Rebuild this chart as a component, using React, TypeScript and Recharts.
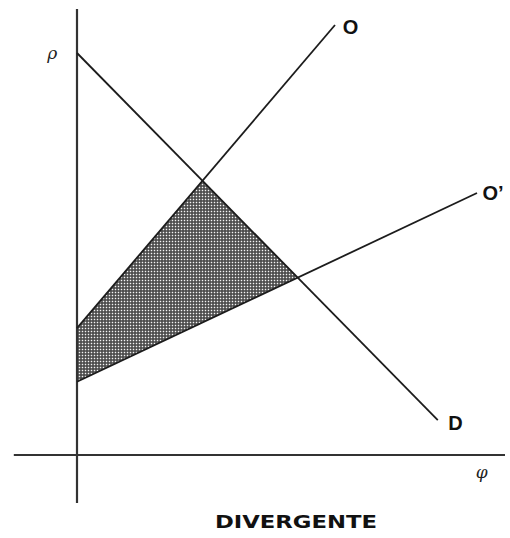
import { ComposedChart, Line, Area, XAxis, YAxis, ReferenceDot, ReferenceLine } from 'recharts';

// price (p) / quantity (phi) units: 1 unit = 40px, origin at the crossing of the axes
const demandD = [
    { x: 0, y: 10.05 },
    { x: 9.02, y: 0.87 },
];
const supplyO = [
    { x: 0, y: 3.17 },
    { x: 6.45, y: 10.75 },
];
const supplyO2 = [
    { x: 0, y: 1.83 },
    { x: 10.0, y: 6.55 },
];
// shaded region: [lower edge (O'), upper edge (O then D)]
const shaded = [
    { x: 0, range: [1.83, 3.17] },
    { x: 3.14, range: [3.31, 6.86] },
    { x: 5.52, range: [4.44, 4.44] },
];
const axisV = [
    { x: 0, y: 11.15 },
    { x: 0, y: -1.2 },
];
const axisH = [
    { x: -1.58, y: 0 },
    { x: 10.7, y: 0 },
];
const lineLabels = [
    { x: 6.84, y: 10.71, text: 'O' },
    { x: 10.4, y: 6.55, text: 'O’' },
    { x: 9.46, y: 0.81, text: 'D' },
];
const axisLabels = [
    { x: -0.62, y: 10.05, text: 'ρ' },
    { x: 10.12, y: -0.43, text: 'φ' },
];
const title = 'DIVERGENTE';

const ink = '#1c1c1c';

export default function App() {
    return (
        <div style={{ position: 'absolute', left: 0, top: 0, width: 510, height: 538, background: '#fff' }}>
            <ComposedChart width={510} height={538} margin={{ top: 0, right: 0, bottom: 0, left: 0 }}>
                <defs>
                    <pattern id="hatch" width="3" height="3" patternUnits="userSpaceOnUse">
                        <rect width="3" height="3" fill="#444" />
                        <rect x="0.75" y="0.75" width="1.5" height="1.5" fill="#f4f4f4" />
                    </pattern>
                </defs>
                <XAxis type="number" dataKey="x" domain={[-1.925, 10.825]} allowDataOverflow hide />
                <YAxis type="number" domain={[-2.075, 11.375]} allowDataOverflow hide width={0} />

                <Area
                    data={shaded}
                    dataKey="range"
                    type="linear"
                    stroke="none"
                    fill="url(#hatch)"
                    fillOpacity={1}
                    dot={false}
                    activeDot={false}
                    isAnimationActive={false}
                />

                <ReferenceLine segment={axisV} stroke="#333" strokeWidth={2.2} />
                <ReferenceLine segment={axisH} stroke="#333" strokeWidth={2.2} />
                <Line data={demandD} dataKey="y" type="linear" stroke={ink} strokeWidth={1.8} dot={false} activeDot={false} isAnimationActive={false} />
                <Line data={supplyO} dataKey="y" type="linear" stroke={ink} strokeWidth={1.8} dot={false} activeDot={false} isAnimationActive={false} />
                <Line data={supplyO2} dataKey="y" type="linear" stroke={ink} strokeWidth={1.8} dot={false} activeDot={false} isAnimationActive={false} />

                {lineLabels.map((l) => (
                    <ReferenceDot
                        key={l.text}
                        x={l.x}
                        y={l.y}
                        r={0}
                        stroke="none"
                        fill="none"
                        label={{
                            value: l.text,
                            position: 'center',
                            fill: '#111',
                            fontSize: 20,
                            fontWeight: 700,
                            fontFamily: 'Liberation Sans, Arial, sans-serif',
                        }}
                    />
                ))}
                {axisLabels.map((l) => (
                    <ReferenceDot
                        key={l.text}
                        x={l.x}
                        y={l.y}
                        r={0}
                        stroke="none"
                        fill="none"
                        label={{
                            value: l.text,
                            position: 'center',
                            fill: '#222',
                            fontSize: 17,
                            fontStyle: 'italic',
                            fontFamily: 'DejaVu Serif, serif',
                        }}
                    />
                ))}
            </ComposedChart>
            <svg width={510} height={538} style={{ position: 'absolute', left: 0, top: 0, pointerEvents: 'none' }}>
                <text
                    x={296}
                    y={528}
                    textAnchor="middle"
                    textLength={162}
                    lengthAdjust="spacingAndGlyphs"
                    fontFamily="DejaVu Sans, sans-serif"
                    fontWeight={700}
                    fontSize={18}
                    fill="#111"
                >
                    {title}
                </text>
            </svg>
        </div>
    );
}
